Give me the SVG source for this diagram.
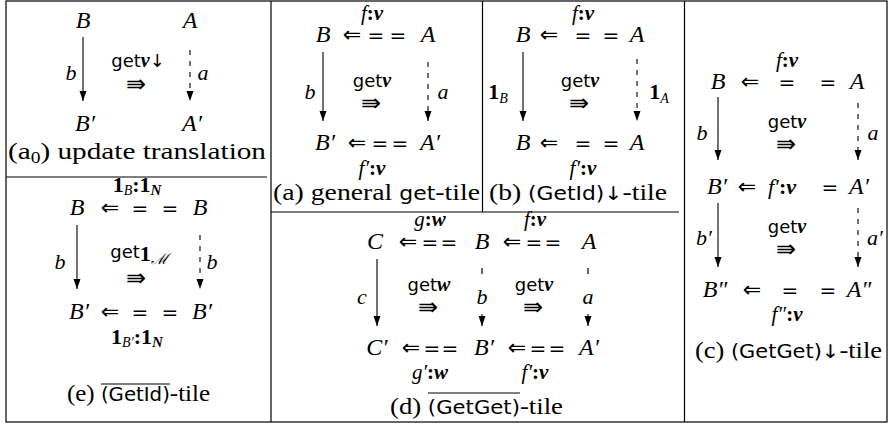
<svg xmlns="http://www.w3.org/2000/svg" width="888" height="424" viewBox="0 0 888 424">
<style>
text{fill:#000}
.n{font-family:"Liberation Serif",serif;font-style:italic;font-size:24px;text-anchor:middle}
.op{font-family:"DejaVu Sans",sans-serif;font-size:20px;text-anchor:middle}
.la{font-family:"DejaVu Sans",sans-serif;font-size:22px;text-anchor:middle}
.tr{font-family:"DejaVu Sans",sans-serif;font-size:24px;text-anchor:middle}
.lb{font-family:"Liberation Serif",serif;font-style:italic;font-size:22px;text-anchor:middle}
.ls{font-size:21px}
.gl{font-family:"DejaVu Sans",sans-serif;font-size:18px;text-anchor:middle}
.bv{font-family:"Liberation Serif",serif;font-style:italic;font-weight:bold}
.bo{font-family:"Liberation Serif",serif;font-style:normal;font-weight:bold}
.it{font-family:"Liberation Serif",serif;font-style:italic;font-weight:normal}
.cap{font-family:"Liberation Serif",serif;font-size:24px}
.sf{font-family:"DejaVu Sans",sans-serif;font-size:19px}
.fr{fill:none;stroke:#000;stroke-width:1.2}
.ar{stroke:#000;stroke-width:1.1;fill:none;marker-end:url(#ah)}
.da{stroke-dasharray:5 6}
</style>
<defs>
<marker id="ah" markerUnits="userSpaceOnUse" markerWidth="10" markerHeight="8" refX="10" refY="3.5" orient="auto"><path d="M0,0 L10,3.5 L0,7 z" fill="#000"/></marker>
</defs>

<g id="frame">
<rect class="fr" x="6" y="1" width="881" height="421"/>
<line class="fr" x1="271" y1="1" x2="271" y2="422"/>
<line class="fr" x1="684.5" y1="1" x2="684.5" y2="422"/>
<line class="fr" x1="482.5" y1="1" x2="482.5" y2="212"/>
<line class="fr" x1="6" y1="177" x2="267" y2="177"/>
<line class="fr" x1="271" y1="212" x2="679" y2="212"/>
</g>

<!-- (a0) -->
<g id="a0-B"><text class="n" x="83" y="28">B</text></g>
<g id="a0-A"><text class="n" x="190" y="28">A</text></g>
<g id="a0-B1"><text class="n" x="85" y="131">B′</text></g>
<g id="a0-A1"><text class="n" x="192" y="131">A′</text></g>
<g id="a0-labels">
<text class="lb" x="71" y="80">b</text>
<text class="lb" x="203" y="80">a</text>
<text class="gl" x="138" y="67">get<tspan class="bv" font-size="20">v</tspan>↓</text>
<text class="tr" x="136" y="92">⇛</text>
<text class="cap" x="8" y="159" textLength="258" lengthAdjust="spacingAndGlyphs">(a<tspan font-size="16" dy="4">0</tspan><tspan dy="-4">) update translation</tspan></text>
</g>

<!-- (e) -->
<g id="e-B"><text class="n" x="77" y="215">B</text></g>
<g id="e-Bt"><text class="n" x="200" y="215">B</text></g>
<g id="e-B1"><text class="n" x="79" y="319">B′</text></g>
<g id="e-Bt1"><text class="n" x="202" y="319">B′</text></g>
<g id="e-labels">
<text class="la" x="110" y="215">⇐</text><text class="op" x="140" y="215">=</text><text class="op" x="170" y="215">=</text>
<text class="la" x="110" y="319">⇐</text><text class="op" x="140" y="319">=</text><text class="op" x="170" y="319">=</text>
<text class="lb" x="137" y="192"><tspan class="bo">1</tspan><tspan font-size="14" dy="3">B</tspan><tspan class="bo" dy="-3">:1</tspan><tspan class="bv" font-size="15" dy="3">N</tspan></text>
<text class="lb" x="137" y="344"><tspan class="bo">1</tspan><tspan font-size="14" dy="3">B′</tspan><tspan class="bo" dy="-3">:1</tspan><tspan class="bv" font-size="15" dy="3">N</tspan></text>
<text class="lb" x="60" y="269">b</text>
<text class="lb" x="212" y="269">b</text>
<text class="gl" x="139" y="258">get<tspan class="bo" font-size="22" dy="3">1</tspan><tspan class="it" font-size="15" dy="3">ℳ</tspan></text>
<text class="tr" x="136" y="286">⇛</text>
<text class="cap" x="67" y="401" textLength="143" lengthAdjust="spacingAndGlyphs">(e) <tspan class="sf">(GetId)</tspan>-tile</text>
<line class="fr" x1="101" y1="384" x2="170" y2="384"/>
</g>

<!-- (a) -->
<g id="a-B"><text class="n" x="323" y="42">B</text></g>
<g id="a-A"><text class="n" x="428" y="42">A</text></g>
<g id="a-B1"><text class="n" x="325" y="150">B′</text></g>
<g id="a-A1"><text class="n" x="430" y="150">A′</text></g>
<g id="a-labels">
<text class="la" x="352" y="42">⇐</text><text class="op" x="376" y="42">=</text><text class="op" x="398" y="42">=</text>
<text class="la" x="357" y="150">⇐</text><text class="op" x="380" y="150">=</text><text class="op" x="400" y="150">=</text>
<text class="lb ls" x="372" y="20">f<tspan class="bo">:</tspan><tspan class="bv">v</tspan></text>
<text class="lb ls" x="372" y="175">f′<tspan class="bo">:</tspan><tspan class="bv">v</tspan></text>
<text class="lb" x="310" y="99">b</text>
<text class="lb" x="443" y="99">a</text>
<text class="gl" x="372" y="87">get<tspan class="bv" font-size="20">v</tspan></text>
<text class="tr" x="371" y="111">⇛</text>
<text class="cap" x="273" y="200" textLength="207" lengthAdjust="spacingAndGlyphs">(a) general <tspan class="sf">get</tspan>-tile</text>
</g>

<!-- (b) -->
<g id="b-B"><text class="n" x="523" y="42">B</text></g>
<g id="b-A"><text class="n" x="637" y="42">A</text></g>
<g id="b-B1"><text class="n" x="523" y="150">B</text></g>
<g id="b-A1"><text class="n" x="637" y="150">A</text></g>
<g id="b-labels">
<text class="la" x="549" y="42">⇐</text><text class="op" x="583" y="42">=</text><text class="op" x="611" y="42">=</text>
<text class="la" x="549" y="150">⇐</text><text class="op" x="583" y="150">=</text><text class="op" x="611" y="150">=</text>
<text class="lb ls" x="583" y="20">f<tspan class="bo">:</tspan><tspan class="bv">v</tspan></text>
<text class="lb ls" x="583" y="175">f′<tspan class="bo">:</tspan><tspan class="bv">v</tspan></text>
<text class="lb" x="498" y="99"><tspan class="bo">1</tspan><tspan font-size="14" dy="4">B</tspan></text>
<text class="lb" x="659" y="99"><tspan class="bo">1</tspan><tspan font-size="14" dy="4">A</tspan></text>
<text class="gl" x="580" y="87">get<tspan class="bv" font-size="20">v</tspan></text>
<text class="tr" x="579" y="111">⇛</text>
<text class="cap" x="489" y="200" textLength="178" lengthAdjust="spacingAndGlyphs">(b) <tspan class="sf">(GetId)↓</tspan>-tile</text>
</g>

<!-- (d) -->
<g id="d-C"><text class="n" x="375" y="249">C</text></g>
<g id="d-B"><text class="n" x="482" y="249">B</text></g>
<g id="d-A"><text class="n" x="589" y="249">A</text></g>
<g id="d-C1"><text class="n" x="377" y="355">C′</text></g>
<g id="d-B1"><text class="n" x="484" y="355">B′</text></g>
<g id="d-A1"><text class="n" x="589" y="355">A′</text></g>
<g id="d-labels">
<text class="la" x="408" y="249">⇐</text><text class="op" x="430" y="249">=</text><text class="op" x="449" y="249">=</text>
<text class="la" x="512" y="249">⇐</text><text class="op" x="534" y="249">=</text><text class="op" x="553" y="249">=</text>
<text class="la" x="411" y="355">⇐</text><text class="op" x="432" y="355">=</text><text class="op" x="450" y="355">=</text>
<text class="la" x="517" y="355">⇐</text><text class="op" x="538" y="355">=</text><text class="op" x="557" y="355">=</text>
<text class="lb ls" x="430" y="226">g<tspan class="bo">:</tspan><tspan class="bv">w</tspan></text>
<text class="lb ls" x="535" y="226">f<tspan class="bo">:</tspan><tspan class="bv">v</tspan></text>
<text class="lb ls" x="430" y="379">g′<tspan class="bo">:</tspan><tspan class="bv">w</tspan></text>
<text class="lb ls" x="535" y="379">f′<tspan class="bo">:</tspan><tspan class="bv">v</tspan></text>
<text class="lb" x="362" y="304">c</text>
<text class="lb" x="482" y="304">b</text>
<text class="lb" x="588" y="304">a</text>
<text class="gl" x="429" y="291">get<tspan class="bv" font-size="20">w</tspan></text>
<text class="tr" x="428" y="315">⇛</text>
<text class="gl" x="534" y="291">get<tspan class="bv" font-size="20">v</tspan></text>
<text class="tr" x="533" y="315">⇛</text>
<text class="cap" x="390" y="414" textLength="173" lengthAdjust="spacingAndGlyphs">(d) <tspan class="sf">(GetGet)</tspan>-tile</text>
<line class="fr" x1="428" y1="393" x2="520" y2="393"/>
</g>

<!-- (c) -->
<g id="c-B"><text class="n" x="718" y="89">B</text></g>
<g id="c-A"><text class="n" x="857" y="89">A</text></g>
<g id="c-B1"><text class="n" x="717" y="194">B′</text></g>
<g id="c-A1"><text class="n" x="859" y="194">A′</text></g>
<g id="c-B2"><text class="n" x="715" y="297">B″</text></g>
<g id="c-A2"><text class="n" x="859" y="297">A″</text></g>
<g id="c-labels">
<text class="la" x="750" y="89">⇐</text><text class="op" x="787" y="89">=</text><text class="op" x="828" y="89">=</text>
<text class="la" x="747" y="194">⇐</text><text class="op" x="830" y="194">=</text>
<text class="la" x="752" y="297">⇐</text><text class="op" x="790" y="297">=</text><text class="op" x="828" y="297">=</text>
<text class="lb ls" x="787" y="67">f<tspan class="bo">:</tspan><tspan class="bv">v</tspan></text>
<text class="lb" x="782" y="194">f′<tspan class="bo">:</tspan><tspan class="bv">v</tspan></text>
<text class="lb ls" x="787" y="321">f″<tspan class="bo">:</tspan><tspan class="bv">v</tspan></text>
<text class="lb" x="702" y="140">b</text>
<text class="lb" x="873" y="140">a</text>
<text class="lb" x="704" y="245">b′</text>
<text class="lb" x="875" y="245">a′</text>
<text class="gl" x="787" y="128">get<tspan class="bv" font-size="20">v</tspan></text>
<text class="tr" x="786" y="152">⇛</text>
<text class="gl" x="787" y="233">get<tspan class="bv" font-size="20">v</tspan></text>
<text class="tr" x="786" y="257">⇛</text>
<text class="cap" x="695" y="358" textLength="187" lengthAdjust="spacingAndGlyphs">(c) <tspan class="sf">(GetGet)↓</tspan>-tile</text>
</g>

<g id="connectors">
<line class="ar" x1="83" y1="37" x2="83" y2="101"/>
<line class="ar da" x1="190" y1="50" x2="190" y2="101"/>
<line class="ar" x1="77" y1="225" x2="77" y2="289"/>
<line class="ar da" x1="200" y1="235" x2="200" y2="289"/>
<line class="ar" x1="323" y1="52" x2="323" y2="121"/>
<line class="ar da" x1="428" y1="62" x2="428" y2="121"/>
<line class="ar" x1="523" y1="52" x2="523" y2="121"/>
<line class="ar da" x1="637" y1="59" x2="637" y2="121"/>
<line class="ar" x1="377" y1="259" x2="377" y2="326"/>
<line class="fr" x1="482" y1="268" x2="482" y2="274"/>
<line class="ar" x1="482" y1="314" x2="482" y2="326"/>
<line class="fr" x1="588" y1="268" x2="588" y2="274"/>
<line class="ar" x1="588" y1="314" x2="588" y2="326"/>
<line class="ar" x1="718" y1="97" x2="718" y2="160"/>
<line class="ar da" x1="858" y1="103" x2="858" y2="160"/>
<line class="ar" x1="718" y1="203" x2="718" y2="267"/>
<line class="ar da" x1="858" y1="208" x2="858" y2="267"/>
</g>
</svg>
